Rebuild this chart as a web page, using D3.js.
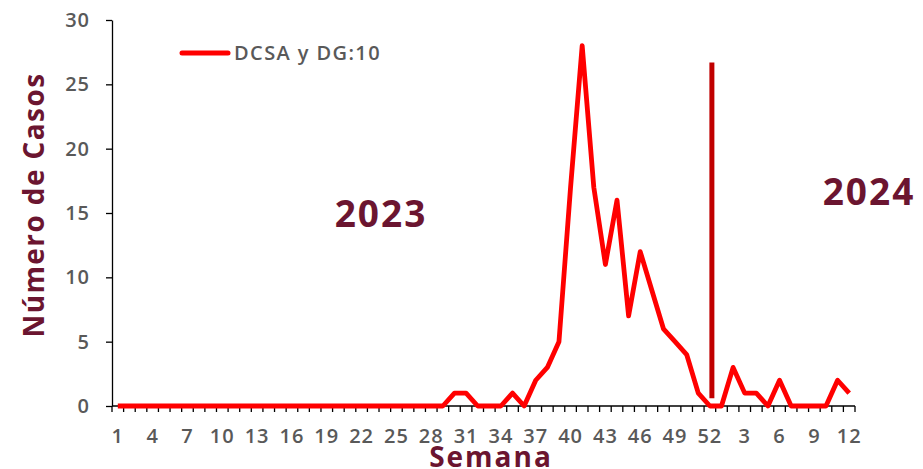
<!DOCTYPE html>
<html>
<head>
<meta charset="utf-8">
<script src="https://d3js.org/d3.v7.min.js"></script>
<style>
  body { margin: 0; background: #fff; }
  svg text { font-family: "Open Sans", sans-serif; }
</style>
</head>
<body>
<svg id="chart" width="923" height="469"></svg>
<script>
// semanas 2023 (1-52) y 2024 (1-12)
var weeks2023 = d3.range(1, 53);
var weeks2024 = d3.range(1, 13);
var casos2023 = [0,0,0,0,0,0,0,0,0,0,0,0,0,0,0,0,0,0,0,0,0,0,0,0,0,0,0,0,0,1,
                 1,0,0,0,1,0,2,3,5,17,28,17,11,16,7,12,9,6,5,4,1,0];
var casos2024 = [0,3,1,1,0,2,0,0,0,0,2,1];
var yTicks = [0, 5, 10, 15, 20, 25, 30];
var separador = [0.6, 26.7]; // barra vertical entre años

var data = [];
weeks2023.forEach(function(w, i){ data.push({key: "2023-" + w, label: w, value: casos2023[i]}); });
weeks2024.forEach(function(w, i){ data.push({key: "2024-" + w, label: w, value: casos2024[i]}); });

var chart = d3.select("#chart");
var margin = {left: 112, right: 68, top: 20, bottom: 63};
var width = 923 - margin.left - margin.right;
var height = 469 - margin.top - margin.bottom;

var x = d3.scaleBand()
  .domain(data.map(function(d){ return d.key; }))
  .range([0, width])
  .padding(0);
var y = d3.scaleLinear().domain([0, 30]).range([height, 0]);

var g = chart.append("g")
  .attr("transform", "translate(" + margin.left + "," + margin.top + ")");

// eje y
var yAxis = g.append("g")
  .call(d3.axisLeft(y).tickValues(yTicks).tickSize(6).tickPadding(16).tickSizeOuter(0));
yAxis.select(".domain").style("stroke", "#000").style("stroke-width", 1.3);
yAxis.selectAll(".tick line").style("stroke", "#000").style("stroke-width", 1.3);
yAxis.selectAll("text")
  .style("font-size", "20px")
  .style("font-weight", 600)
  .style("letter-spacing", "1px")
  .style("fill", "#595959");

// eje x: marcas entre categorías
var xg = g.append("g").attr("transform", "translate(0," + height + ")");
xg.append("line")
  .attr("x1", 0).attr("x2", width)
  .style("stroke", "#000").style("stroke-width", 1.3);
var bounds = data.map(function(d){ return x(d.key); }).concat([width]);
xg.selectAll(".tk").data(bounds).enter().append("line")
  .attr("class", "tk")
  .attr("x1", function(d){ return d; }).attr("x2", function(d){ return d; })
  .attr("y1", 0).attr("y2", 6)
  .style("stroke", "#000").style("stroke-width", 1.3);
xg.selectAll(".lbl").data(data.filter(function(d, i){ return i % 3 === 0; }))
  .enter().append("text")
  .attr("class", "lbl")
  .attr("x", function(d){ return x(d.key) + x.bandwidth() / 2; })
  .attr("y", 37)
  .attr("text-anchor", "middle")
  .style("font-size", "20px")
  .style("font-weight", 600)
  .style("letter-spacing", "1px")
  .style("fill", "#595959")
  .text(function(d){ return d.label; });

// separador de años
g.append("line")
  .attr("x1", x("2023-52") + x.bandwidth() / 2 + 2)
  .attr("x2", x("2023-52") + x.bandwidth() / 2 + 2)
  .attr("y1", y(separador[0]))
  .attr("y2", y(separador[1]))
  .style("stroke", "#C00000")
  .style("stroke-width", 5);

// línea de casos
var line = d3.line()
  .x(function(d){ return x(d.key) + x.bandwidth() / 2; })
  .y(function(d){ return y(d.value); });
g.append("path")
  .datum(data)
  .attr("d", line)
  .style("fill", "none")
  .style("stroke", "#FF0000")
  .style("stroke-width", 4.8)
  .style("stroke-linejoin", "round");

// leyenda
chart.append("line")
  .attr("x1", 182).attr("x2", 228).attr("y1", 53).attr("y2", 53)
  .style("stroke", "#FF0000").style("stroke-width", 5).style("stroke-linecap", "round");
chart.append("text")
  .attr("x", 234).attr("y", 60)
  .style("font-size", "20px").style("font-weight", 600).style("fill", "#595959")
  .style("letter-spacing", "1.4px")
  .text("DCSA y DG:10");

// años
chart.append("text")
  .attr("x", 381).attr("y", 227)
  .attr("text-anchor", "middle")
  .style("font-size", "37px").style("font-weight", 700).style("fill", "#6B1530")
  .style("letter-spacing", "2px")
  .text("2023");
chart.append("text")
  .attr("x", 869).attr("y", 205)
  .attr("text-anchor", "middle")
  .style("font-size", "37px").style("font-weight", 700).style("fill", "#6B1530")
  .style("letter-spacing", "2px")
  .text("2024");

// títulos de ejes
chart.append("text")
  .attr("transform", "translate(44,205) rotate(-90)")
  .attr("text-anchor", "middle")
  .style("font-size", "28px").style("font-weight", 700).style("fill", "#6B1530")
  .style("letter-spacing", "1.4px")
  .text("Número de Casos");
chart.append("text")
  .attr("x", 491).attr("y", 467)
  .attr("text-anchor", "middle")
  .style("font-size", "28px").style("font-weight", 700).style("fill", "#6B1530")
  .style("letter-spacing", "2px")
  .text("Semana");
</script>
</body>
</html>
